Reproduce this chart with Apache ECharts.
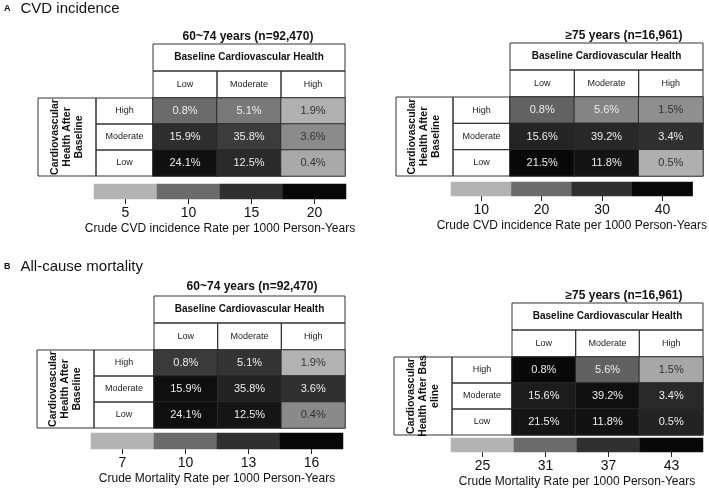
<!DOCTYPE html>
<html>
<head>
<meta charset="utf-8">
<script src="https://cdn.jsdelivr.net/npm/echarts@6/dist/echarts.min.js"></script>
<style>
  html, body { margin: 0; padding: 0; background: #fff; }
  #chart { width: 709px; height: 489px; }
</style>
</head>
<body>
<div id="chart"></div>
<script>
// categories
const baselineLevels = ['Low', 'Moderate', 'High'];      // columns
const afterLevels = ['Low', 'Moderate', 'High'];         // y axis, bottom -> top

// proportions of participants (%), rows top -> bottom = after High, Moderate, Low
const pct6074 = [
  [0.8, 5.1, 1.9],
  [15.9, 35.8, 3.6],
  [24.1, 12.5, 0.4]
];
const pct75 = [
  [0.8, 5.6, 1.5],
  [15.6, 39.2, 3.4],
  [21.5, 11.8, 0.5]
];

// crude rates per 1000 person-years (read from the cell shading), same layout
const cvdRate6074 = [
  [10, 9, 5.2],
  [15.3, 14, 7.8],
  [19, 15.8, 5.7]
];
const cvdRate75 = [
  [21.5, 16.5, 15],
  [33, 32, 30],
  [40, 37, 10.5]
];
const mortRate6074 = [
  [12.5, 12.8, 7],
  [15.5, 14, 13],
  [15.5, 15, 8.7]
];
const mortRate75 = [
  [43, 32, 26],
  [40, 42, 38],
  [41, 41.5, 39]
];

// colour bar tick labels
const cvdTicks6074 = [5, 10, 15, 20];
const cvdTicks75 = [10, 20, 30, 40];
const mortTicks6074 = [7, 10, 13, 16];
const mortTicks75 = [25, 31, 37, 43];

const FONT = '"Liberation Sans", Arial, Helvetica, sans-serif';
const grays = ['#b3b3b3', '#6b6b6b', '#303030', '#080808'];
const HDR = 27;

const panels = [
  {
    title: '60~74 years (n=92,470)', tx: 243, ty: 26,
    pct: pct6074, rate: cvdRate6074, ticks: cvdTicks6074,
    barName: 'Crude CVD incidence Rate per 1000 Person-Years',
    box: { x: 153, y: 98, w: 192, h: 78 }, bar: { x: 94, y: 184, w: 252, h: 15 },
    rowLabW: 57, rotW: 58, rot: 'Cardiovascular\nHealth After\nBaseline'
  },
  {
    title: '≥75 years (n=16,961)', tx: 619, ty: 25,
    pct: pct75, rate: cvdRate75, ticks: cvdTicks75,
    barName: 'Crude CVD incidence Rate per 1000 Person-Years',
    box: { x: 510, y: 97, w: 193, h: 79 }, bar: { x: 451, y: 182, w: 252, h: 14 },
    rowLabW: 57, rotW: 57, rot: 'Cardiovascular\nHealth After\nBaseline'
  },
  {
    title: '60~74 years (n=92,470)', tx: 247, ty: 276,
    pct: pct6074, rate: mortRate6074, ticks: mortTicks6074,
    barName: 'Crude Mortality Rate per 1000 Person-Years',
    box: { x: 154, y: 350, w: 191, h: 78 }, bar: { x: 91, y: 433, w: 252, h: 16 },
    rowLabW: 60, rotW: 57, rot: 'Cardiovascular\nHealth After\nBaseline'
  },
  {
    title: '≥75 years (n=16,961)', tx: 619, ty: 285,
    pct: pct75, rate: mortRate75, ticks: mortTicks75,
    barName: 'Crude Mortality Rate per 1000 Person-Years',
    box: { x: 512, y: 357, w: 191, h: 78 }, bar: { x: 451, y: 438, w: 252, h: 15 },
    rowLabW: 60, rotW: 58, rot: 'Cardiovascular\nHealth After Bas\neline'
  }
];

const grid = [], xAxis = [], yAxis = [], series = [], visualMap = [], graphic = [];
const sectionStyle = {
  fontWeight: 'normal',
  rich: {
    a: { fontSize: 9, fontWeight: 'bold', fontFamily: FONT, color: '#111' },
    b: { fontSize: 15, fontWeight: 'normal', fontFamily: FONT, color: '#111' }
  }
};
const title = [
  { text: '{a|A}  {b|CVD incidence}', left: 4, top: 0, padding: 0, textStyle: sectionStyle },
  { text: '{a|B}  {b|All-cause mortality}', left: 4, top: 258, padding: 0, textStyle: sectionStyle }
];

const frame = { type: 'rect', silent: true, style: { fill: 'none', stroke: '#333', lineWidth: 1 } };

panels.forEach((p, i) => {
  const gMain = 2 * i, gBar = 2 * i + 1;
  const { x, y, w, h } = p.box;
  const lo = p.ticks[0], hi = p.ticks[p.ticks.length - 1];
  const darkTextBelow = lo + (hi - lo) * 0.2;

  title.push({
    text: p.title, left: p.tx, top: p.ty, textAlign: 'center',
    textStyle: { fontSize: 12, fontWeight: 'bold', fontFamily: FONT, color: '#111' }
  });

  grid.push({ left: x, top: y, width: w, height: h });
  grid.push({ left: p.bar.x, top: p.bar.y, width: p.bar.w, height: p.bar.h });

  xAxis.push({
    type: 'category', gridIndex: gMain, data: baselineLevels, position: 'top',
    axisLine: { show: false }, axisTick: { show: false }, splitLine: { show: false },
    axisLabel: { margin: HDR / 2, verticalAlign: 'middle', fontSize: 9, fontFamily: FONT, color: '#222' }
  });
  yAxis.push({
    type: 'category', gridIndex: gMain, data: afterLevels,
    axisLine: { show: false }, axisTick: { show: false }, splitLine: { show: false },
    axisLabel: { margin: p.rowLabW / 2, align: 'center', fontSize: 9, fontFamily: FONT, color: '#222' }
  });
  xAxis.push({
    type: 'category', gridIndex: gBar, data: p.ticks.map(String),
    axisLine: { show: false }, splitLine: { show: false },
    axisTick: { show: true, alignWithLabel: true, length: 5, lineStyle: { color: '#222' } },
    axisLabel: { margin: 7, fontSize: 14, fontFamily: FONT, color: '#111' },
    name: p.barName, nameLocation: 'middle', nameGap: 24,
    nameTextStyle: { fontSize: 12, fontFamily: FONT, color: '#111' }
  });
  yAxis.push({ type: 'category', gridIndex: gBar, data: [''], show: false });

  const cells = [];
  p.rate.forEach((row, r) => {
    row.forEach((v, c) => {
      cells.push({
        value: [c, afterLevels.length - 1 - r, v, p.pct[r][c]],
        label: { color: v < darkTextBelow ? '#333' : '#ececec' }
      });
    });
  });

  series.push({
    type: 'heatmap', xAxisIndex: gMain, yAxisIndex: gMain, data: cells,
    itemStyle: { borderColor: '#2a2a2a', borderWidth: 1 },
    label: { show: true, fontSize: 11, fontFamily: FONT, formatter: d => d.value[3].toFixed(1) + '%' },
    emphasis: { disabled: true }
  });
  series.push({
    type: 'heatmap', xAxisIndex: gBar, yAxisIndex: gBar,
    data: p.ticks.map((t, k) => [k, 0, t]),
    emphasis: { disabled: true }
  });

  visualMap.push({
    type: 'continuous', show: false, min: lo, max: hi, dimension: 2,
    seriesIndex: [gMain, gBar], inRange: { color: grays }
  });

  // table frame
  graphic.push(Object.assign({}, frame, { shape: { x: x, y: y - 2 * HDR, width: w, height: HDR } }));
  graphic.push({
    type: 'text', silent: true, x: x + w / 2, y: y - 1.5 * HDR,
    style: { text: 'Baseline Cardiovascular Health', font: 'bold 10px ' + FONT, fill: '#111',
             textAlign: 'center', textVerticalAlign: 'middle' }
  });
  for (let c = 0; c < 3; c++) {
    graphic.push(Object.assign({}, frame, { shape: { x: x + c * w / 3, y: y - HDR, width: w / 3, height: HDR } }));
  }
  for (let r = 0; r < 3; r++) {
    graphic.push(Object.assign({}, frame, { shape: { x: x - p.rowLabW, y: y + r * h / 3, width: p.rowLabW, height: h / 3 } }));
  }
  graphic.push(Object.assign({}, frame, { shape: { x: x - p.rowLabW - p.rotW, y: y, width: p.rotW, height: h } }));
  graphic.push({
    type: 'text', silent: true, x: x - p.rowLabW - p.rotW / 2, y: y + h / 2, rotation: Math.PI / 2,
    style: { text: p.rot, font: 'bold 10.5px ' + FONT, fill: '#111', lineHeight: 12,
             textAlign: 'center', textVerticalAlign: 'middle' }
  });
});

const chart = echarts.init(document.getElementById('chart'), null, { renderer: 'canvas' });
chart.setOption({
  backgroundColor: '#fff',
  animation: false,
  title, grid, xAxis, yAxis, series, visualMap, graphic
});
</script>
</body>
</html>
